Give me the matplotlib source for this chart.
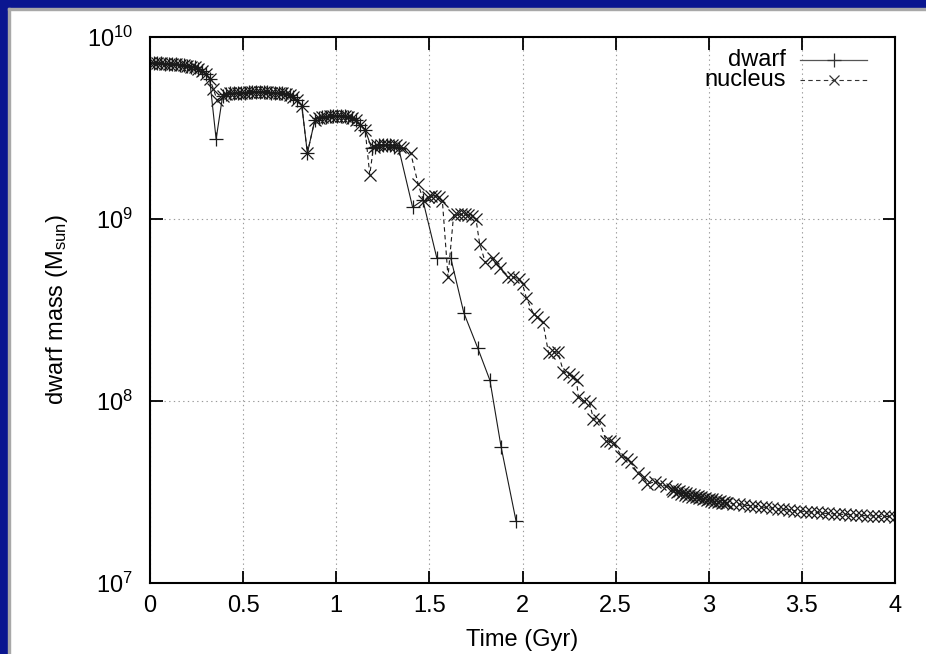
import matplotlib
matplotlib.use('Agg')
import matplotlib.pyplot as plt
from matplotlib.patches import Rectangle
from matplotlib.lines import Line2D

plt.rcParams['font.family'] = ['Liberation Sans', 'DejaVu Sans']
plt.rcParams['mathtext.fontset'] = 'custom'
plt.rcParams['mathtext.rm'] = 'Liberation Sans'
plt.rcParams['mathtext.it'] = 'Liberation Sans'
plt.rcParams['mathtext.default'] = 'regular'

# dwarf galaxy (solid line, + markers), time in Gyr, mass in Msun
dwarf_t = [0.00, 0.02, 0.04, 0.06, 0.08, 0.10, 0.12, 0.14, 0.16, 0.18, 0.20, 0.22,
           0.24, 0.26, 0.28, 0.30, 0.32, 0.355, 0.39, 0.41, 0.43, 0.45, 0.47, 0.49,
           0.51, 0.53, 0.55, 0.57, 0.59, 0.61, 0.63, 0.65, 0.67, 0.69, 0.71, 0.73,
           0.75, 0.77, 0.79, 0.815, 0.845, 0.885, 0.905, 0.925, 0.945, 0.965, 0.985,
           1.005, 1.025, 1.045, 1.065, 1.085, 1.105, 1.13, 1.155, 1.19, 1.21, 1.23,
           1.25, 1.27, 1.29, 1.31, 1.335, 1.41, 1.465, 1.54, 1.615, 1.685, 1.76,
           1.825, 1.885, 1.965]
dwarf_m = [7.2e9, 7.2e9, 7.2e9, 7.2e9, 7.15e9, 7.15e9, 7.1e9, 7.1e9, 7.05e9, 7.0e9,
           6.95e9, 6.85e9, 6.8e9, 6.7e9, 6.5e9, 6.3e9, 5.9e9, 2.75e9, 4.75e9, 4.85e9,
           4.9e9, 4.9e9, 4.95e9, 4.95e9, 4.95e9, 5.0e9, 5.0e9, 5.0e9, 5.0e9, 5.0e9,
           5.0e9, 4.95e9, 4.95e9, 4.9e9, 4.9e9, 4.85e9, 4.8e9, 4.7e9, 4.5e9, 4.2e9,
           2.3e9, 3.5e9, 3.6e9, 3.65e9, 3.65e9, 3.7e9, 3.7e9, 3.7e9, 3.7e9, 3.7e9,
           3.65e9, 3.6e9, 3.5e9, 3.3e9, 3.1e9, 2.45e9, 2.5e9, 2.55e9, 2.55e9, 2.55e9,
           2.55e9, 2.5e9, 2.45e9, 1.16e9, 1.27e9, 6.1e8, 6.1e8, 3.05e8, 1.95e8,
           1.3e8, 5.6e7, 2.2e7]

# nucleus (dashed line, x markers)
nuc_t = [0.00, 0.02, 0.04, 0.06, 0.08, 0.10, 0.12, 0.14, 0.16, 0.18, 0.20, 0.22,
         0.24, 0.26, 0.28, 0.30, 0.32, 0.34, 0.36, 0.39, 0.41, 0.43, 0.45, 0.47,
         0.49, 0.51, 0.53, 0.55, 0.57, 0.59, 0.61, 0.63, 0.65, 0.67, 0.69, 0.71,
         0.73, 0.75, 0.77, 0.79, 0.815, 0.845, 0.885, 0.905, 0.925, 0.945, 0.965,
         0.985, 1.005, 1.025, 1.045, 1.065, 1.085, 1.105, 1.13, 1.155, 1.18, 1.20,
         1.22, 1.24, 1.26, 1.28, 1.30, 1.32, 1.34, 1.36, 1.40, 1.44, 1.47, 1.49,
         1.51, 1.53, 1.55, 1.57, 1.60, 1.63, 1.65, 1.67, 1.69, 1.71, 1.73, 1.75,
         1.77, 1.80, 1.84, 1.86, 1.88, 1.92, 1.95, 1.98, 2.00, 2.02, 2.06, 2.08,
         2.11, 2.14, 2.17, 2.19, 2.22, 2.25, 2.27, 2.29, 2.30, 2.33, 2.36, 2.38,
         2.41, 2.45, 2.47, 2.49, 2.53, 2.56, 2.58, 2.62, 2.65, 2.67, 2.71, 2.74,
         2.77,
         2.80, 2.81, 2.82, 2.83, 2.84, 2.85, 2.86, 2.87, 2.88, 2.89, 2.90, 2.91,
         2.92, 2.93, 2.94, 2.95, 2.96, 2.97, 2.98, 2.99, 3.00, 3.01, 3.02, 3.03,
         3.04, 3.05, 3.06, 3.07, 3.08, 3.09, 3.10,
         3.13, 3.16, 3.19, 3.22, 3.25, 3.28, 3.31, 3.34, 3.37, 3.40, 3.43, 3.46,
         3.49, 3.52, 3.55, 3.58, 3.61, 3.64, 3.67, 3.70, 3.73, 3.76, 3.79, 3.82,
         3.85, 3.88, 3.91, 3.94, 3.97, 4.00]
nuc_m = [7.2e9, 7.2e9, 7.2e9, 7.2e9, 7.15e9, 7.15e9, 7.1e9, 7.1e9, 7.05e9, 7.0e9,
         6.95e9, 6.85e9, 6.8e9, 6.7e9, 6.5e9, 6.3e9, 5.9e9, 5.2e9, 4.5e9, 4.75e9,
         4.85e9, 4.9e9, 4.9e9, 4.95e9, 4.95e9, 4.95e9, 5.0e9, 5.0e9, 5.0e9, 5.0e9,
         5.0e9, 5.0e9, 4.95e9, 4.95e9, 4.9e9, 4.9e9, 4.85e9, 4.8e9, 4.7e9, 4.5e9,
         4.2e9, 2.3e9, 3.5e9, 3.6e9, 3.65e9, 3.65e9, 3.7e9, 3.7e9, 3.7e9, 3.7e9,
         3.7e9, 3.65e9, 3.6e9, 3.5e9, 3.3e9, 3.1e9, 1.75e9, 2.5e9, 2.55e9, 2.55e9,
         2.55e9, 2.55e9, 2.55e9, 2.55e9, 2.5e9, 2.45e9, 2.3e9, 1.55e9, 1.25e9,
         1.32e9, 1.34e9, 1.34e9, 1.32e9, 1.25e9, 4.8e8, 1.05e9, 1.06e9, 1.06e9,
         1.06e9, 1.05e9, 1.04e9, 1.0e9, 7.3e8, 5.8e8, 6.1e8, 5.7e8, 5.4e8, 4.8e8,
         4.8e8, 4.7e8, 4.4e8, 3.7e8, 3.0e8, 2.9e8, 2.7e8, 1.83e8, 1.87e8, 1.85e8,
         1.45e8, 1.4e8, 1.35e8, 1.3e8, 1.05e8, 1.0e8, 9.8e7, 8.0e7, 7.9e7, 6.0e7,
         6.0e7, 5.9e7, 5.0e7, 4.8e7, 4.6e7, 4.0e7, 3.8e7, 3.5e7, 3.6e7, 3.5e7,
         3.4e7,
         3.30e7, 3.22e7, 3.28e7, 3.15e7, 3.20e7, 3.10e7, 3.18e7, 3.05e7, 3.12e7,
         3.02e7, 3.08e7, 2.98e7, 3.04e7, 2.95e7, 3.00e7, 2.92e7, 2.97e7, 2.88e7,
         2.94e7, 2.85e7, 2.91e7, 2.83e7, 2.88e7, 2.80e7, 2.86e7, 2.78e7, 2.83e7,
         2.76e7, 2.80e7, 2.74e7, 2.76e7,
         2.72e7, 2.70e7, 2.68e7, 2.66e7, 2.64e7, 2.62e7, 2.60e7, 2.58e7, 2.56e7,
         2.54e7, 2.52e7, 2.50e7, 2.48e7, 2.47e7, 2.45e7, 2.44e7, 2.42e7, 2.41e7,
         2.40e7, 2.39e7, 2.38e7, 2.37e7, 2.36e7, 2.35e7, 2.34e7, 2.34e7, 2.33e7,
         2.32e7, 2.32e7, 2.31e7]

xticks = [0, 0.5, 1, 1.5, 2, 2.5, 3, 3.5, 4]
xticklabels = ['0', '0.5', '1', '1.5', '2', '2.5', '3', '3.5', '4']

fig = plt.figure(figsize=(9.26, 6.54), dpi=100)

# blue slide frame on top and left
blue = '#0a1690'
fig.add_artist(Rectangle((0, 1 - 8 / 654), 1, 8 / 654, transform=fig.transFigure,
                         color=blue, zorder=0))
fig.add_artist(Rectangle((0, 0), 8 / 926, 1, transform=fig.transFigure,
                         color=blue, zorder=0))
fig.add_artist(Rectangle((8 / 926, 0), 2 / 926, 1 - 8 / 654, transform=fig.transFigure,
                         color='#a8a8a8', zorder=0))
fig.add_artist(Rectangle((8 / 926, 1 - 10 / 654), 1, 2 / 654, transform=fig.transFigure,
                         color='#a8a8a8', zorder=0))

ax = fig.add_axes([150 / 926, 71 / 654, 745 / 926, 546 / 654])

ax.plot(dwarf_t, dwarf_m, color='#1a1a1a', lw=0.8, marker='+', ms=10, mew=0.9)
ax.plot(nuc_t, nuc_m, color='#1a1a1a', lw=0.8, ls=(0, (4, 3)), marker='x',
        ms=9, mew=0.9)

ax.set_yscale('log')
ax.set_xlim(0, 4)
ax.set_ylim(1e7, 1e10)
ax.set_xticks(xticks)
ax.set_xticklabels(xticklabels)
ax.set_yticks([1e7, 1e8, 1e9, 1e10])
ax.yaxis.set_minor_locator(matplotlib.ticker.NullLocator())
ax.tick_params(which='major', direction='in', length=9, width=1.3,
               top=True, right=True, labelsize=17, colors='black')
ax.tick_params(axis='x', pad=9)
ax.tick_params(axis='y', pad=12)
ax.grid(True, which='major', color='#999999', ls=(0, (1.2, 3)), lw=0.8)
for s in ax.spines.values():
    s.set_linewidth(1.5)

ax.set_xlabel('Time (Gyr)', fontsize=17, labelpad=8)
ax.set_ylabel(r'dwarf mass (M$_{\rm sun}$)', fontsize=17, labelpad=12)

# gnuplot style key: text right aligned, sample to the right
ax.text(0.853, 0.958, 'dwarf', transform=ax.transAxes, ha='right', va='center',
        fontsize=17)
ax.text(0.853, 0.921, 'nucleus', transform=ax.transAxes, ha='right', va='center',
        fontsize=17)
ax.add_line(Line2D([0.872, 0.963], [0.958, 0.958], transform=ax.transAxes,
                   color='#555555', lw=0.9))
ax.add_line(Line2D([0.918], [0.958], transform=ax.transAxes, color='#333333',
                   marker='+', ms=10, mew=0.9))
ax.add_line(Line2D([0.872, 0.963], [0.921, 0.921], transform=ax.transAxes,
                   color='#333333', lw=0.8, ls=(0, (4, 3))))
ax.add_line(Line2D([0.918], [0.921], transform=ax.transAxes, color='#333333',
                   marker='x', ms=7, mew=0.9))

fig.savefig('out.png', dpi=100)
